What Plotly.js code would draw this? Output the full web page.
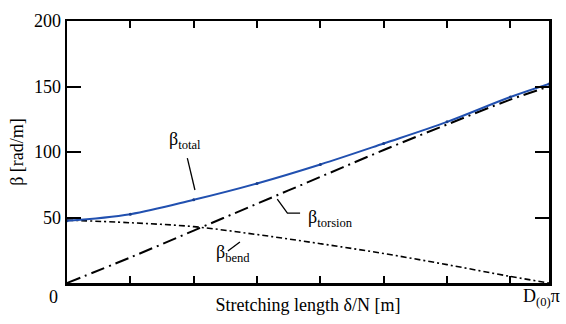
<!DOCTYPE html>
<html>
<head>
<meta charset="utf-8">
<script src="https://cdn.plot.ly/plotly-3.0.1.min.js"></script>
<style>html,body{margin:0;padding:0;background:#fff;}#chart{width:566px;height:324px;}</style>
</head>
<body>
<div id="chart"></div>
<script>
// x in units of the minor tick spacing; end of axis = D(0)π
const xEnd = 7.61;
const xTotal = [0, 1, 2, 3, 4, 5, 6, 7, 7.61];
const betaTotal = [47.5, 52.5, 63.5, 76, 90.5, 106.5, 123, 142, 152];
const xTorsion = [0, 1, 2, 3, 4, 5, 6, 7, 7.61];
const betaTorsion = [0, 19.5, 40, 60.5, 81, 101.5, 121, 140, 150];
const xBend = [0, 1, 2, 3, 4, 5, 6, 7, 7.61];
const betaBend = [48, 46, 43, 37, 30, 22.5, 14, 5, 0];
const yTickVals = [50, 100, 150, 200];
const xTickVals = [1, 2, 3, 4, 5, 6, 7];

const FONT = '"Liberation Serif", "Times New Roman", serif';

const traces = [
  {x: xBend, y: betaBend, mode: 'lines', line: {color: '#000', width: 1.6, dash: '6px,3px,2px,3px', shape: 'spline'}, hoverinfo: 'skip'},
  {x: xTorsion, y: betaTorsion, mode: 'lines', line: {color: '#000', width: 2, dash: '14px,5px,2px,5px', shape: 'spline'}, hoverinfo: 'skip'},
  {x: xTotal, y: betaTotal, mode: 'lines+markers', line: {color: '#2150b0', width: 2, shape: 'spline'}, marker: {size: 3, color: '#1a3f8c'}, hoverinfo: 'skip'}
];

const layout = {
  width: 566, height: 324,
  margin: {l: 67, r: 17, t: 21, b: 41},
  paper_bgcolor: '#fff', plot_bgcolor: '#fff',
  showlegend: false,
  font: {family: FONT, size: 18, color: '#000'},
  xaxis: {
    range: [0, xEnd], tickvals: xTickVals, showticklabels: false,
    ticks: 'inside', ticklen: 7, tickwidth: 2, tickcolor: '#000',
    showline: true, linecolor: '#000', linewidth: 2.5, mirror: 'ticks',
    showgrid: false, zeroline: false,
    title: {text: 'Stretching length δ/N [m]', font: {family: FONT, size: 18}, standoff: 14}
  },
  yaxis: {
    range: [0, 200], tickvals: yTickVals, ticktext: yTickVals.map(String),
    ticks: 'inside', ticklen: 14, tickwidth: 2, tickcolor: '#000',
    showline: true, linecolor: '#000', linewidth: 2.5, mirror: 'ticks',
    showgrid: false, zeroline: false,
    tickfont: {family: FONT, size: 18},
    title: {text: 'β [rad/m]', font: {family: FONT, size: 18}, standoff: 6}
  },
  annotations: [
    {xref: 'paper', yref: 'paper', x: -0.027, y: -0.055, text: '0', showarrow: false, xanchor: 'center', yanchor: 'middle', font: {family: FONT, size: 18}},
    {xref: 'paper', yref: 'paper', x: 1.028, y: -0.055, text: 'D<sub>(0)</sub>π', showarrow: false, xanchor: 'right', yanchor: 'middle', font: {family: FONT, size: 18}},
    {xref: 'x', yref: 'y', x: 1.58, y: 109, text: 'β<sub>total</sub>', showarrow: false, xanchor: 'left', yanchor: 'middle', font: {family: FONT, size: 18}},
    {xref: 'x', yref: 'y', x: 3.78, y: 49.6, text: 'β<sub>torsion</sub>', showarrow: false, xanchor: 'left', yanchor: 'middle', font: {family: FONT, size: 18}},
    {xref: 'x', yref: 'y', x: 2.32, y: 22.9, text: 'β<sub>bend</sub>', showarrow: false, xanchor: 'left', yanchor: 'middle', font: {family: FONT, size: 18}}
  ],
  shapes: [
    {type: 'line', xref: 'x', yref: 'y', x0: 1.90, y0: 95.4, x1: 2.02, y1: 71.0, line: {color: '#000', width: 1.3}},
    {type: 'path', xref: 'x', yref: 'y', path: 'M 3.32 64.1 L 3.48 53.4 L 3.68 53.4', line: {color: '#000', width: 1.3}},
    {type: 'line', xref: 'x', yref: 'y', x0: 2.54, y0: 24.4, x1: 2.73, y1: 31.3, line: {color: '#000', width: 1.3}}
  ]
};

Plotly.newPlot('chart', traces, layout, {staticPlot: true, displayModeBar: false});
</script>
</body>
</html>
